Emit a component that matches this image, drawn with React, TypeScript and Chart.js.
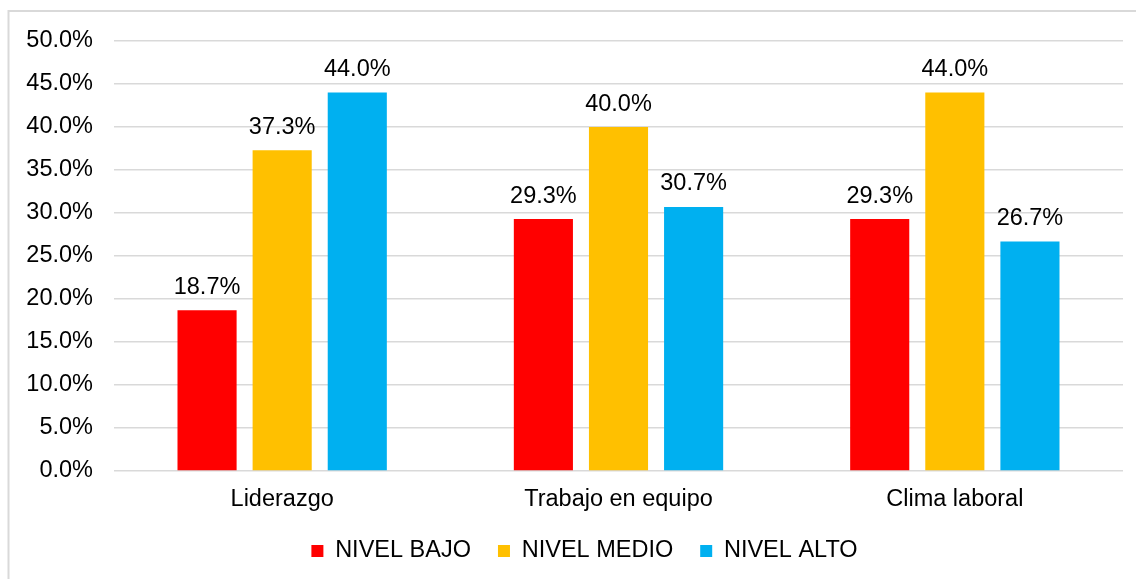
import React, { useEffect, useRef } from "react";
import { Chart, registerables } from "chart.js";

Chart.register(...registerables);

const categories = ["Liderazgo", "Trabajo en equipo", "Clima laboral"];
const seriesNames = ["NIVEL BAJO", "NIVEL MEDIO", "NIVEL ALTO"];
const nivelBajo = [18.7, 29.3, 29.3];
const nivelMedio = [37.3, 40.0, 44.0];
const nivelAlto = [44.0, 30.7, 26.7];
const seriesColors = ["#FF0000", "#FFC000", "#00B0F0"];
const yTicks = [0, 5, 10, 15, 20, 25, 30, 35, 40, 45, 50];

const FONT = "'Liberation Sans', Arial, sans-serif";
const FS = 23.5;
const LEGEND_PAD = 27;

const borderPlugin = {
  id: "outerBorder",
  beforeDraw(chart: any) {
    const ctx = chart.ctx;
    ctx.save();
    ctx.fillStyle = "#ffffff";
    ctx.fillRect(0, 0, chart.width, chart.height);
    ctx.strokeStyle = "#D9D9D9";
    ctx.lineWidth = 2;
    ctx.strokeRect(8.5, 11, 3000, 3000);
    ctx.restore();
  },
};

const legendShiftPlugin = {
  id: "legendShift",
  afterLayout(chart: any) {
    const lg = chart.legend;
    if (!lg) return;
    const h = lg.height;
    lg.left += 19;
    lg.right += 19;
    lg.top = 551 - LEGEND_PAD - FS / 2;
    lg.bottom = lg.top + h;
  },
};

const labelPlugin = {
  id: "barLabels",
  afterDatasetsDraw(chart: any) {
    const ctx = chart.ctx;
    ctx.save();
    ctx.font = `${FS}px ${FONT}`;
    ctx.fillStyle = "#000000";
    ctx.textAlign = "center";
    ctx.textBaseline = "alphabetic";
    chart.data.datasets.forEach((ds: any, di: number) => {
      const meta = chart.getDatasetMeta(di);
      meta.data.forEach((bar: any, i: number) => {
        const v = ds.data[i];
        ctx.fillText(v.toFixed(1) + "%", bar.x, bar.y - 16.5);
      });
    });
    ctx.restore();
  },
};

export default function App() {
  const ref = useRef<HTMLCanvasElement | null>(null);
  useEffect(() => {
    if (!ref.current) return;
    const series = [nivelBajo, nivelMedio, nivelAlto];
    const chart = new Chart(ref.current, {
      type: "bar",
      data: {
        labels: categories,
        datasets: series.map((d, i) => ({
          label: seriesNames[i],
          data: d,
          backgroundColor: seriesColors[i],
          borderWidth: 0,
          categoryPercentage: 0.67,
          barPercentage: 0.787,
        })),
      },
      options: {
        animation: false,
        responsive: false,
        devicePixelRatio: 1,
        layout: { padding: { left: 8, top: 41, right: 13, bottom: 0 } },
        scales: {
          y: {
            min: 0,
            max: 50,
            afterFit(scale: any) {
              scale.width = 106;
            },
            afterBuildTicks(scale: any) {
              scale.ticks = yTicks.map((v) => ({ value: v }));
            },
            ticks: {
              padding: 21,
              color: "#000000",
              font: { family: FONT, size: FS },
              callback: (v: any) => Number(v).toFixed(1) + "%",
            },
            grid: { color: "#D9D9D9", lineWidth: 1.5, drawTicks: false },
            border: { display: false },
          },
          x: {
            afterFit(scale: any) {
              const lgH = scale.chart.legend ? scale.chart.legend.height : 0;
              scale.height = 579 - 471 - lgH;
            },
            ticks: {
              padding: 14,
              color: "#000000",
              font: { family: FONT, size: FS },
            },
            grid: { display: false, drawTicks: false },
            border: { display: false },
          },
        },
        plugins: {
          legend: {
            position: "bottom",
            labels: {
              boxWidth: 12,
              boxHeight: 12,
              padding: LEGEND_PAD,
              color: "#000000",
              font: { family: FONT, size: FS },
            },
          },
          tooltip: { enabled: false },
        },
      },
      plugins: [borderPlugin, legendShiftPlugin, labelPlugin],
    });
    return () => chart.destroy();
  }, []);
  return (
    <div style={{ position: "fixed", left: 0, top: 0, width: 1136, height: 579, overflow: "hidden" }}>
      <canvas ref={ref} width={1136} height={579} style={{ display: "block", width: 1136, height: 579 }} />
    </div>
  );
}
